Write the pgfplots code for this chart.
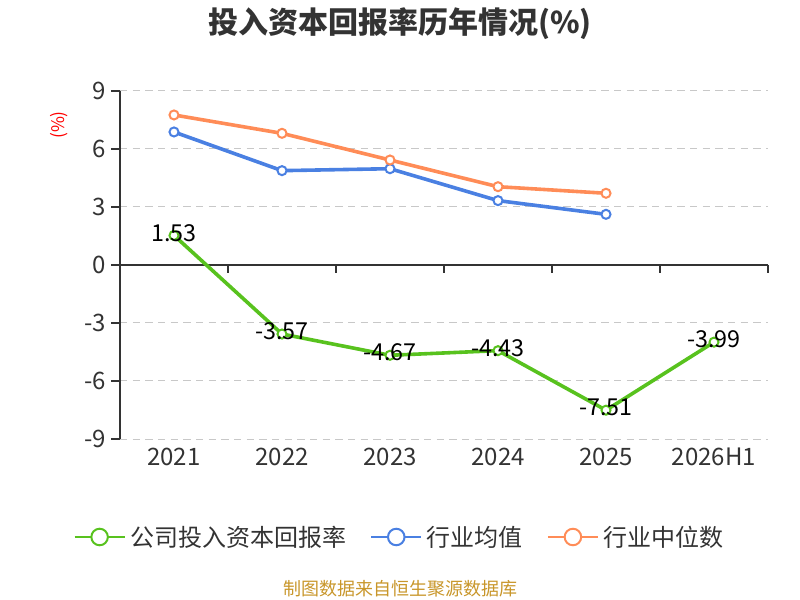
\documentclass[border=0pt]{standalone}
\usepackage{pgfplots}
\pgfplotsset{compat=1.18}
\usepackage{fontspec}
\setmainfont{Noto Sans CJK SC}
\definecolor{cgreen}{HTML}{58C21E}
\definecolor{cblue}{HTML}{4A80E2}
\definecolor{corange}{HTML}{FF8C57}
\definecolor{cdark}{HTML}{333333}
\definecolor{cgrid}{HTML}{C8C8C8}
\definecolor{cgold}{HTML}{C8962A}
\pgfplotstableread{
x y lab
0 1.53 1.53
1 -3.57 -3.57
2 -4.67 -4.67
3 -4.43 -4.43
4 -7.51 -7.51
5 -3.99 -3.99
}\company
\pgfplotstableread{
x y
0 6.88
1 4.88
2 4.98
3 3.33
4 2.62
}\indavg
\pgfplotstableread{
x y
0 7.76
1 6.81
2 5.43
3 4.05
4 3.71
}\indmed
\begin{document}
\begin{tikzpicture}
\path[use as bounding box] (0,0) rectangle (600pt,450pt);
\node[font=\bfseries\fontsize{22.5pt}{26pt}\selectfont, text=cdark] at (300pt,432pt) {投入资本回报率历年情况(\%)};
\node[rotate=90, text=red, font=\fontsize{13pt}{15pt}\selectfont] at (44.25pt,356.25pt) {(\%)};
\node[text=cgold, font=\fontsize{13.5pt}{16pt}\selectfont] at (300pt,8.25pt) {制图数据来自恒生聚源数据库};
\begin{axis}[
  at={(90pt,120.75pt)}, anchor=south west,
  scale only axis, width=486pt, height=261pt,
  xmin=-0.5, xmax=5.5, ymin=-9, ymax=9,
  clip=false,
  axis lines*=left,
  x axis line style={draw=none},
  y axis line style={draw=cdark, line width=1.5pt, -},
  xtick={0,1,2,3,4,5},
  xticklabels={2021,2022,2023,2024,2025,2026H1},
  x tick label style={yshift=-3.5pt},
  xtick style={draw=none},
  ytick={-9,-6,-3,0,3,6,9},
  yticklabels={-9,-6,-3,0,3,6,9},
  ytick style={draw=cdark, line width=1.5pt},
  ytick align=outside,
  major tick length=6.75pt,
  tick label style={font=\fontsize{18pt}{21pt}\selectfont, text=cdark},
  ymajorgrids,
  grid style={cgrid, line width=0.75pt, dash pattern=on 5.5pt off 4pt},
  legend columns=3,
  legend style={draw=none, fill=none, at={(0.432,-0.2816)}, anchor=center,
    font=\fontsize{18pt}{21pt}\selectfont, text=cdark,
    /tikz/every odd column/.append style={column sep=1.5pt},
    /tikz/every even column/.append style={column sep=16pt}},
  legend cell align=left,
  legend image code/.code={
    \draw[#1, mark=none, line width=1.5pt] (0pt,0pt) -- (37.5pt,0pt);
    \draw[#1, mark=none, fill=white, line width=1.5pt] (18.75pt,0pt) circle (6.2pt);
  },
]
\draw[cdark, line width=1.5pt] (axis cs:-0.5,0) -- (axis cs:5.5,0);
\draw[cdark, line width=1.5pt] (axis cs:0.5,0) -- (axis cs:0.5,-0.4);
\draw[cdark, line width=1.5pt] (axis cs:1.5,0) -- (axis cs:1.5,-0.4);
\draw[cdark, line width=1.5pt] (axis cs:2.5,0) -- (axis cs:2.5,-0.4);
\draw[cdark, line width=1.5pt] (axis cs:3.5,0) -- (axis cs:3.5,-0.4);
\draw[cdark, line width=1.5pt] (axis cs:4.5,0) -- (axis cs:4.5,-0.4);
\draw[cdark, line width=1.5pt] (axis cs:5.5,0) -- (axis cs:5.5,-0.4);
\addplot[cgreen, line width=2.7pt, mark=*, mark size=3.4pt,
  mark options={fill=white, line width=1.5pt},
  nodes near coords, point meta=explicit symbolic,
  every node near coord/.append style={anchor=center, yshift=2pt, text=black,
    font=\fontsize{17.5pt}{20pt}\selectfont}]
  table[x=x, y=y, meta=lab] {\company};
\addlegendentry{公司投入资本回报率}
\addplot[cblue, line width=2.7pt, mark=*, mark size=3.4pt,
  mark options={fill=white, line width=1.5pt}]
  table[x=x, y=y] {\indavg};
\addlegendentry{行业均值}
\addplot[corange, line width=2.7pt, mark=*, mark size=3.4pt,
  mark options={fill=white, line width=1.5pt}]
  table[x=x, y=y] {\indmed};
\addlegendentry{行业中位数}
\end{axis}
\end{tikzpicture}
\end{document}
